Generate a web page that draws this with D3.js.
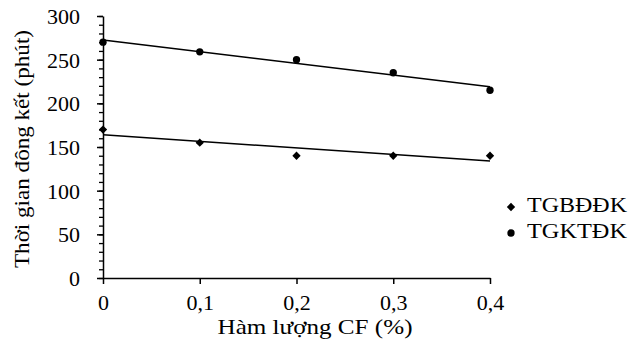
<!DOCTYPE html>
<html>
<head>
<meta charset="utf-8">
<script src="https://cdn.jsdelivr.net/npm/d3@7"></script>
<style>
  body { margin: 0; background: #fff; }
</style>
</head>
<body>
<div id="chart"></div>
<script>
// data
var cfLevels = [0, 0.1, 0.2, 0.3, 0.4];
var tgbddk = [170, 155, 140, 140, 140];   // diamonds
var tgktdk = [270, 259, 250, 235, 215];   // circles
var xTicks = [0, 0.1, 0.2, 0.3, 0.4];
var yTicks = [0, 50, 100, 150, 200, 250, 300];
var seriesNames = ["TGBĐĐK", "TGKTĐK"];

var serif = "'Liberation Serif', 'Times New Roman', 'DejaVu Serif', serif";

var margin = {top: 16, right: 152, bottom: 66, left: 103},
    width = 642 - margin.left - margin.right,
    height = 344 - margin.top - margin.bottom;

var svg = d3.select("#chart").append("svg")
    .attr("width", 642)
    .attr("height", 344)
    .append("g")
    .attr("transform", "translate(" + margin.left + "," + margin.top + ")");

var x = d3.scaleLinear().domain([0, 0.4]).range([0, width]);
var y = d3.scaleLinear().domain([0, 300]).range([height, 0]);

var fmt = function(d) { return d === 0 ? "0" : d3.format(".1f")(d).replace(".", ","); };

// minor y ticks every 10
svg.append("g")
    .call(d3.axisLeft(y).tickValues(d3.range(0, 301, 10)).tickSize(4).tickFormat(""))
    .call(function(g) { g.select(".domain").remove(); })
    .selectAll("line").attr("stroke-width", 1.3);

// y axis
var yAxis = svg.append("g")
    .call(d3.axisLeft(y).tickValues(yTicks).tickSize(6).tickSizeOuter(0).tickPadding(17));
yAxis.selectAll("text")
    .style("font-family", serif).style("font-size", "22px").attr("dy", "0.34em");
yAxis.selectAll("line, path").attr("stroke-width", 1.5);

// x axis
var xAxis = svg.append("g")
    .attr("transform", "translate(0," + height + ")")
    .call(d3.axisBottom(x).tickValues(xTicks).tickSize(6).tickSizeOuter(0).tickFormat(fmt).tickPadding(10));
xAxis.selectAll("text").style("font-family", serif).style("font-size", "22px");
xAxis.selectAll("line, path").attr("stroke-width", 1.5);

// axis titles
svg.append("text")
    .attr("x", 212)
    .attr("y", height + 56)
    .attr("textLength", 195)
    .attr("lengthAdjust", "spacingAndGlyphs")
    .style("text-anchor", "middle")
    .style("font-family", serif)
    .style("font-size", "22px")
    .text("Hàm lượng CF (%)");

svg.append("text")
    .attr("transform", "rotate(-90)")
    .attr("x", -133)
    .attr("y", -74)
    .attr("textLength", 238)
    .attr("lengthAdjust", "spacingAndGlyphs")
    .style("text-anchor", "middle")
    .style("font-family", serif)
    .style("font-size", "22px")
    .text("Thời gian đông kết (phút)");

// least squares trendline
function fit(xs, ys) {
    var mx = d3.mean(xs), my = d3.mean(ys);
    var num = d3.sum(xs, function(v, i) { return (v - mx) * (ys[i] - my); });
    var den = d3.sum(xs, function(v) { return (v - mx) * (v - mx); });
    var b = num / den;
    return {a: my - b * mx, b: b};
}

[tgbddk, tgktdk].forEach(function(vals) {
    var f = fit(cfLevels, vals);
    svg.append("line")
        .attr("x1", x(0)).attr("y1", y(f.a))
        .attr("x2", x(0.4)).attr("y2", y(f.a + f.b * 0.4))
        .attr("stroke", "#000")
        .attr("stroke-width", 1.5);
});

var diamond = d3.symbol().type(d3.symbolDiamond2).size(44);
var circle = d3.symbol().type(d3.symbolCircle).size(42);

svg.selectAll(".dia")
    .data(tgbddk)
    .enter().append("path")
    .attr("class", "dia")
    .attr("d", diamond)
    .attr("transform", function(d, i) { return "translate(" + x(cfLevels[i]) + "," + y(d) + ")"; })
    .attr("fill", "#000");

svg.selectAll(".dot")
    .data(tgktdk)
    .enter().append("path")
    .attr("class", "dot")
    .attr("d", circle)
    .attr("transform", function(d, i) { return "translate(" + x(cfLevels[i]) + "," + y(d) + ")"; })
    .attr("fill", "#000");

// legend
var legend = svg.append("g")
    .attr("transform", "translate(" + (width + 21) + "," + 191 + ")");

seriesNames.forEach(function(name, i) {
    var row = legend.append("g").attr("transform", "translate(0," + (i * 26) + ")");
    row.append("path")
        .attr("d", i === 0 ? diamond : circle)
        .attr("fill", "#000");
    row.append("text")
        .attr("x", 16)
        .attr("y", 5)
        .attr("textLength", 100)
        .attr("lengthAdjust", "spacingAndGlyphs")
        .style("font-family", serif)
        .style("font-size", "22px")
        .text(name);
});
</script>
</body>
</html>
